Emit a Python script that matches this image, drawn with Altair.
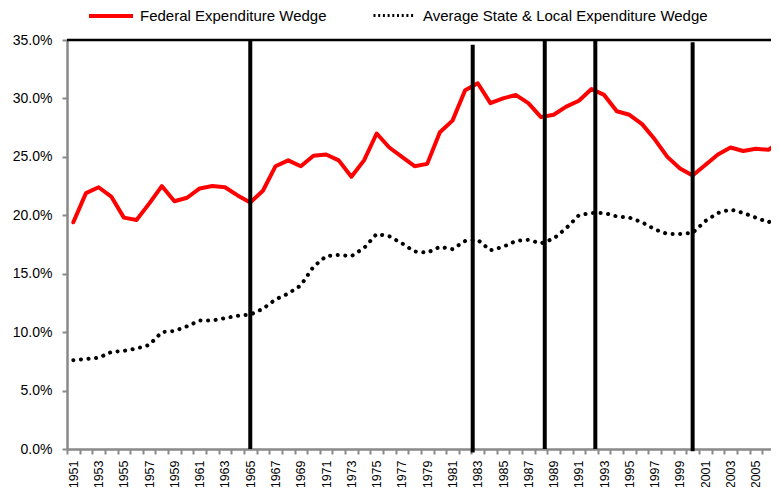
import altair as alt
import pandas as pd

years = list(range(1951, 2008))
federal = [19.4, 21.9, 22.4, 21.6, 19.8, 19.6, 21.0, 22.5, 21.2, 21.5,
           22.3, 22.5, 22.4, 21.7, 21.1, 22.1, 24.2, 24.7, 24.2, 25.1,
           25.2, 24.7, 23.3, 24.7, 27.0, 25.8, 25.0, 24.2, 24.4, 27.1,
           28.1, 30.7, 31.3, 29.6, 30.0, 30.3, 29.6, 28.4, 28.6, 29.3,
           29.8, 30.8, 30.3, 28.9, 28.6, 27.8, 26.5, 25.0, 24.0, 23.4,
           24.3, 25.2, 25.8, 25.5, 25.7, 25.6, 26.4]
state_local = [7.6, 7.7, 7.8, 8.3, 8.4, 8.6, 8.9, 10.0, 10.1, 10.5,
               11.0, 11.0, 11.2, 11.4, 11.5, 12.0, 12.8, 13.3, 14.0, 15.6,
               16.5, 16.6, 16.5, 17.2, 18.4, 18.2, 17.6, 16.9, 16.8, 17.3,
               17.1, 17.8, 17.9, 17.0, 17.3, 17.8, 17.9, 17.6, 18.0, 18.9,
               20.0, 20.2, 20.2, 19.9, 19.8, 19.4, 18.8, 18.4, 18.4, 18.5,
               19.5, 20.2, 20.5, 20.2, 19.8, 19.4, 20.0]
fed_name = "Federal Expenditure Wedge"
sl_name = "Average State & Local Expenditure Wedge"

event_years = [1965, 1982.6, 1988.3, 1992.3, 2000.0]
event_tops = [35.0, 34.6, 35.0, 35.0, 34.8]
event_bottoms = [0.0, -0.3, 0.0, 0.0, -0.2]

y_ticks = [0, 5, 10, 15, 20, 25, 30, 35]
x_ticks = list(range(1951, 2008))

fed_df = pd.DataFrame({"year": years, "value": federal, "series": fed_name})
sl_df = pd.DataFrame({"year": years, "value": state_local, "series": sl_name})
ev_df = pd.DataFrame({"year": event_years, "value": event_tops, "bottom": event_bottoms})
top_df = pd.DataFrame({"value": [35]})

FONT = "Liberation Sans"
GRAY = "#898989"

x_scale = alt.Scale(domain=[1950.5, 2006.2], nice=False, zero=False)
y_scale = alt.Scale(domain=[0, 35], nice=False, zero=True)

x_axis = alt.Axis(values=x_ticks, format="d",
                  labelExpr="datum.value % 2 == 1 ? datum.label : ''",
                  labelAngle=270, tickOffset=-6.32, labelOffset=6.32,
                  title=None, grid=False, labelOverlap=False, labelFlush=False,
                  labelFontSize=12.5, labelPadding=6, tickSize=5)
y_axis = alt.Axis(values=y_ticks, labelExpr="format(datum.value, '.1f') + '%'",
                  title=None, grid=False, labelFontSize=14, labelPadding=10,
                  tickSize=5)

X = alt.X("year:Q", scale=x_scale, axis=x_axis)
Y = alt.Y("value:Q", scale=y_scale, axis=y_axis)

fed = alt.Chart(fed_df).mark_line(
    strokeWidth=4, strokeJoin="round", strokeCap="round", clip=True
).encode(
    x=X, y=Y,
    color=alt.Color("series:N", title=None,
                    scale=alt.Scale(domain=[fed_name], range=["#ff0000"]),
                    legend=alt.Legend(orient="none", legendX=20, legendY=-48,
                                      symbolType="stroke", symbolSize=1936,
                                      symbolStrokeWidth=4, labelFontSize=15,
                                      labelOffset=5, labelLimit=400,
                                      labelFont=FONT)),
)

sl = alt.Chart(sl_df).mark_line(
    strokeWidth=4, strokeDash=[0.1, 7.5], strokeCap="round", clip=True
).encode(
    x=X, y=Y,
    color=alt.Color("series:N", title=None,
                    scale=alt.Scale(domain=[sl_name], range=["#000000"]),
                    legend=alt.Legend(orient="none", legendX=305, legendY=-47,
                                      symbolType="stroke", symbolSize=1764,
                                      symbolStrokeWidth=3, symbolDash=[2, 2.7],
                                      labelFontSize=15, labelOffset=6,
                                      labelLimit=500, labelFont=FONT)),
)

rules = alt.Chart(ev_df).mark_rule(color="black", strokeWidth=4).encode(
    x=X, y=Y, y2="bottom:Q",
)

top_line = alt.Chart(top_df).mark_rule(color="black", strokeWidth=2.5).encode(
    y=Y,
)

chart = alt.layer(fed, sl, rules, top_line).resolve_scale(
    color="independent"
).properties(
    width=704, height=409,
    autosize=alt.AutoSizeParams(type="none"),
    padding={"left": 59, "right": 0, "top": 32, "bottom": 38},
    background="white",
).configure(font=FONT).configure_axis(
    domainColor=GRAY, domainWidth=2.5, tickColor=GRAY, tickWidth=2,
    labelColor="black", labelFont=FONT,
).configure_view(strokeWidth=0)

chart.save("out.html", embed_options={"renderer": "svg", "actions": False})
